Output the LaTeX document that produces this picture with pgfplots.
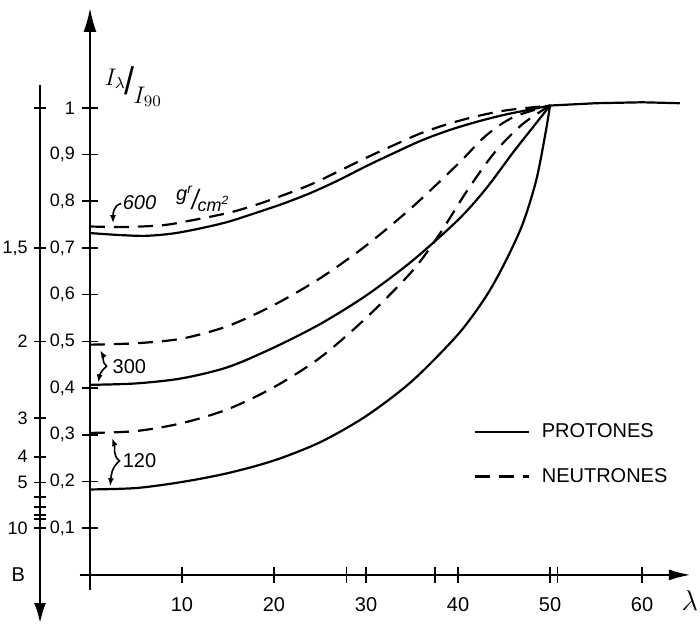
\documentclass[border=0pt]{standalone}
\usepackage{fontspec}
\setmainfont{Liberation Sans}
\usepackage{graphicx}
\usepackage{pgfplots}
\pgfplotsset{compat=1.18}
\usetikzlibrary{arrows.meta}
\newcommand{\sfr}[2]{\raisebox{0.4em}{#1}\kern-0.05em\scalebox{1.5}[1.6]{/}\kern-0.05em\raisebox{-0.35em}{#2}}
\newcommand{\sfru}[2]{\raisebox{0.45em}{#1}\kern-0.05em\scalebox{1.2}[1.4]{/}\kern-0.05em\raisebox{-0.1em}{#2}}
\begin{document}
\begin{tikzpicture}
\begin{axis}[
  x=4.6pt, y=233.5pt,
  xmin=-1.1, xmax=65.3, ymin=-0.032, ymax=1.214,
  axis lines=middle,
  axis line style={line width=1.1pt},
  x axis line style={-{Latex[length=11pt,width=5.5pt]}},
  y axis line style={-{Latex[length=12pt,width=6.5pt]}},
  xtick={10,20,30,40,50,60},
  extra x ticks={27.9,37.5,50.8}, extra x tick labels={},
  ytick={0.1,0.2,0.3,0.4,0.5,0.6,0.7,0.8,0.9,1},
  tick align=center, major tick length=8pt,
  tick style={line width=0.8pt, black},
  xticklabel style={font=\normalsize, yshift=-4pt},
  yticklabel style={font=\small},
  /pgf/number format/use comma,
  /pgf/number format/assume math mode=true,
  clip=false, enlargelimits=false,
  legend style={draw=none, fill=none, at={(axis cs:41.0,0.343)}, anchor=north west,
    font=\normalsize, row sep=10pt, cells={anchor=west},
    nodes={inner xsep=6pt}},
  legend image code/.code={\draw[#1] (0pt,0pt) -- (27pt,0pt);},
  every axis plot/.append style={line width=1.1pt, black},
  ndash/.style={dash pattern=on 7.5pt off 4.5pt},
]
% 600 g/cm2
\addplot[smooth] coordinates {(0,0.732) (3,0.728) (6,0.726) (9,0.731) (12,0.742) (15,0.756) (18,0.775) (21,0.795) (24,0.818) (27,0.845) (30,0.875) (33,0.903) (36,0.930) (39,0.952) (42,0.970) (45,0.985) (48,0.997) (50,1.005)};
\addlegendentry{PROTONES}
\addplot[smooth, ndash] coordinates {(0,0.746) (4,0.745) (8,0.749) (11,0.759) (15,0.775) (18,0.792) (21,0.813) (24,0.836) (27,0.864) (30,0.893) (33,0.920) (36,0.946) (39,0.966) (42,0.982) (45,0.994) (48,1.001) (50,1.005)};
\addlegendentry{NEUTRONES}
% 300 g/cm2
\addplot[smooth, forget plot] coordinates {(0,0.407) (5,0.410) (10,0.421) (15,0.445) (20,0.487) (25,0.537) (30,0.598) (35,0.672) (40,0.760) (43,0.826) (46,0.905) (48,0.955) (50,1.005)};
\addplot[smooth, ndash, forget plot] coordinates {(0,0.493) (5,0.496) (10,0.506) (15,0.533) (20,0.578) (25,0.635) (30,0.705) (35,0.787) (40,0.880) (43,0.940) (46,0.980) (50,1.005)};
% 120 g/cm2
\addplot[smooth, forget plot] coordinates {(0,0.183) (5,0.186) (10,0.199) (15,0.218) (20,0.245) (25,0.284) (30,0.340) (35,0.415) (40,0.515) (43,0.595) (45,0.665) (47,0.750) (48.5,0.845) (49.5,0.945) (50,1.005)};
\addplot[smooth, ndash, forget plot] coordinates {(0,0.304) (5,0.308) (10,0.325) (15,0.355) (20,0.402) (25,0.465) (30,0.550) (35,0.650) (38,0.730) (41,0.823) (44,0.905) (47,0.965) (50,1.005)};
% saturation
\addplot[forget plot] coordinates {(50,1.005) (55,1.010) (60,1.012) (64.1,1.010)};
% annotations
\node[anchor=west, font=\normalsize\itshape] at (axis cs:2.8,0.805) {600\hspace{1em}\sfru{g\textsuperscript{r}}{\small cm\textsuperscript{2}}};
\draw[-{Latex[length=4pt,width=3pt]}, line width=0.8pt] (axis cs:3.4,0.795) to[out=190,in=90] (axis cs:2.5,0.753);
\node[anchor=west, font=\normalsize] at (axis cs:1.7,0.447) {300};
\draw[{Latex[length=4pt,width=3pt]}-{Latex[length=4pt,width=3pt]}, line width=0.8pt] (axis cs:1.1,0.481) to[out=-60,in=140] (axis cs:1.8,0.447) to[out=-140,in=80] (axis cs:0.9,0.412);
\node[anchor=west, font=\normalsize] at (axis cs:2.8,0.244) {120};
\draw[{Latex[length=4pt,width=3pt]}-{Latex[length=4pt,width=3pt]}, line width=0.8pt] (axis cs:2.4,0.293) to[out=-70,in=140] (axis cs:3.2,0.244) to[out=-140,in=85] (axis cs:2.2,0.190);
\node[font=\large] at (axis cs:4.7,1.045) {\sfr{$I_\lambda$}{$I_{90}$}};
\node[font=\Large, inner sep=0pt] at (axis cs:65.2,-0.054) {$\lambda$};
\coordinate (Bsw) at (axis cs:-5.43,-0.103);
\coordinate (BBsw) at (axis cs:-9.78,-0.111);
\coordinate (BBne) at (axis cs:66.3,1.231);
\end{axis}
\begin{axis}[
  at={(Bsw)}, anchor=south west,
  x=4.6pt, y=233.5pt,
  xmin=-5.43, xmax=-4.43, ymin=-0.103, ymax=1.049,
  axis x line=none, axis y line=left,
  axis line style={line width=1.1pt},
  y axis line style={{Latex[length=10pt,width=6pt]}-},
  ytick={1,0.7,0.5,0.336,0.253,0.198,0.167,0.146,0.128,0.12,0.1},
  yticklabels={,{1,5},2,3,4,5,,,,,10},
  yticklabel style={font=\small, inner sep=1pt, xshift=-2pt},
  tick align=center, major tick length=6pt,
  tick style={line width=0.8pt, black},
  clip=false, enlargelimits=false,
]
\node[anchor=east, font=\normalsize] at (axis cs:-5.43,0.0) [xshift=-4pt] {B};
\end{axis}
\pgfresetboundingbox
\path[use as bounding box] (BBsw) rectangle (BBne);
\end{tikzpicture}
\end{document}
